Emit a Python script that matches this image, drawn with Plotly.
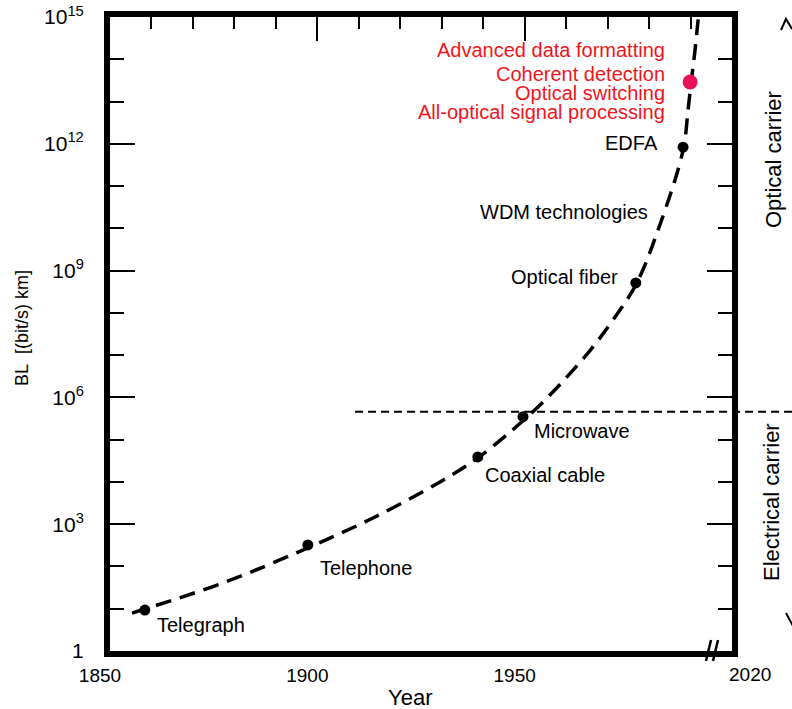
import plotly.graph_objects as go

# ---------------- data ----------------
tech_names = ["Telegraph", "Telephone", "Coaxial cable", "Microwave", "Optical fiber", "EDFA"]
tech_years = [1858.4, 1897.7, 1938.7, 1949.6, 1976.8, 1988.2]
tech_bl = [9.3, 324, 3.9e4, 3.5e5, 5.1e8, 8.3e11]

new_years = [1989.9]
new_bl = [2.9e13]
new_labels = ["Advanced data formatting", "Coherent detection",
              "Optical switching", "All-optical signal processing"]

trend_years = [1855.3, 1877.3, 1896.5, 1913.4, 1929.6, 1938.7, 1949.6, 1956.1,
               1965.8, 1971.3, 1976.9, 1982.6, 1988.2, 1989.4, 1990.1, 1991.1, 1992.0]
trend_bl = [7.9, 41, 245, 1.4e3, 1.0e4, 3.7e4, 2.8e5, 1.14e6,
            1.3e7, 6.8e7, 4.8e8, 1.2e10, 7.1e11, 6.3e12, 2.6e13, 1.7e14, 1.3e15]

carrier_boundary_bl = 4.6e5
carrier_boundary_start = 1909.1

x_tick_vals = [1850, 1900, 1950]
x_tick_text = ["1850", "1900", "1950"]
x_last_label = "2020"
y_tick_vals = [1, 1e3, 1e6, 1e9, 1e12, 1e15]
y_tick_text = ["1", "10<sup>3</sup>", "10<sup>6</sup>", "10<sup>9</sup>",
               "10<sup>12</sup>", "10<sup>15</sup>"]
y_minor_vals = [10 ** k for k in range(16)]
X_RANGE = [1850, 2000]

# ---------------- layout constants ----------------
W, H = 792, 709
L, R, T, B = 110, 60, 17, 58
PW, PH = W - L - R, H - T - B
FONT = "Liberation Sans, Arial, Helvetica, sans-serif"
RED = "#f2141c"


def pxx(p):
    return (p - L) / PW


def pxy(p):
    return (H - B - p) / PH


fig = go.Figure()

fig.add_trace(go.Scatter(
    x=trend_years, y=trend_bl, mode="lines", line_shape="spline",
    line=dict(color="black", width=3.5, dash="16px,9px", smoothing=1.0),
    hoverinfo="skip", showlegend=False))

fig.add_trace(go.Scatter(
    x=tech_years, y=tech_bl, mode="markers",
    marker=dict(color="black", size=11), text=tech_names,
    showlegend=False))

fig.add_trace(go.Scatter(
    x=new_years, y=new_bl, mode="markers",
    marker=dict(color="#e8105a", size=15), showlegend=False))

# horizontal boundary between electrical and optical carriers
fig.add_shape(type="line", xref="paper", yref="y",
              x0=(carrier_boundary_start - X_RANGE[0]) / (X_RANGE[1] - X_RANGE[0]),
              x1=pxx(W), y0=carrier_boundary_bl, y1=carrier_boundary_bl,
              line=dict(color="black", width=2, dash="8px,5px"), layer="above")

# axis break marks "//"
for dx in (0, 7):
    fig.add_shape(type="line", xref="paper", yref="paper",
                  x0=pxx(706 + dx), y0=pxy(661), x1=pxx(711 + dx), y1=pxy(640),
                  line=dict(color="black", width=2.5), layer="above")

# cut-off arrow heads at the far right
fig.add_shape(type="path", xref="paper", yref="paper",
              path=f"M {pxx(781)} {pxy(30)} L {pxx(786)} {pxy(19)} L {pxx(792)} {pxy(29)}",
              line=dict(color="black", width=2))
fig.add_shape(type="line", xref="paper", yref="paper",
              x0=pxx(786), y0=pxy(613), x1=pxx(793), y1=pxy(626),
              line=dict(color="black", width=2))

ann = []
lab_font = dict(family=FONT, size=20, color="black")
# black technology labels (x in years, y in log10 units)
ann.append(dict(x=1860.9, y=0.615, text="Telegraph", xanchor="left"))
ann.append(dict(x=1900.2, y=1.96, text="Telephone", xanchor="left"))
ann.append(dict(x=1939.9, y=4.16, text="Coaxial cable", xanchor="left"))
ann.append(dict(x=1951.8, y=5.205, text="Microwave", xanchor="left"))
ann.append(dict(x=1973.0, y=8.86, text="Optical fiber", xanchor="right"))
ann.append(dict(x=1980.2, y=10.375, text="WDM technologies", xanchor="right"))
ann.append(dict(x=1982.6, y=12.02, text="EDFA", xanchor="right"))
for a in ann:
    a.update(xref="x", yref="y", yanchor="middle", showarrow=False, font=lab_font)

for txt, yy in zip(new_labels, [14.22, 13.65, 13.20, 12.75]):
    ann.append(dict(x=1984.3, y=yy, xref="x", yref="y", text=txt, xanchor="right",
                    yanchor="middle", showarrow=False,
                    font=dict(family=FONT, size=20, color=RED)))

# last x tick label, placed right of the broken axis end
ann.append(dict(x=X_RANGE[1], y=pxy(674), xref="x", yref="paper", text=x_last_label,
                xshift=18, xanchor="center", yanchor="middle", showarrow=False,
                font=dict(family=FONT, size=19, color="black")))
# axis titles
ann.append(dict(x=pxx(410), y=pxy(697), xref="paper", yref="paper", text="Year",
                showarrow=False, xanchor="center", yanchor="middle",
                font=dict(family=FONT, size=22, color="black")))
ann.append(dict(x=pxx(22), y=pxy(328), xref="paper", yref="paper",
                text="BL\u00a0 [(bit/s) km]", textangle=-90, showarrow=False,
                xanchor="center", yanchor="middle",
                font=dict(family=FONT, size=18, color="black")))
# carrier labels
ann.append(dict(x=pxx(773), y=pxy(159), xref="paper", yref="paper",
                text="Optical carrier", textangle=-90, showarrow=False,
                xanchor="center", yanchor="middle",
                font=dict(family=FONT, size=22, color="black")))
ann.append(dict(x=pxx(771), y=pxy(502), xref="paper", yref="paper",
                text="Electrical carrier", textangle=-90, showarrow=False,
                xanchor="center", yanchor="middle",
                font=dict(family=FONT, size=22, color="black")))

fig.update_layout(
    width=W, height=H, margin=dict(l=L, r=R, t=T, b=B, autoexpand=False),
    paper_bgcolor="white", plot_bgcolor="white",
    font=dict(family=FONT, color="black"),
    showlegend=False,
    annotations=ann,
    xaxis=dict(range=X_RANGE, showgrid=False, zeroline=False, automargin=False,
               showline=True, linewidth=6, linecolor="black", mirror=True,
               ticks="", tickvals=x_tick_vals, ticktext=x_tick_text,
               ticklabelshift=-10, ticklabelstandoff=2,
               tickfont=dict(family=FONT, size=19, color="black")),
    xaxis2=dict(range=X_RANGE, overlaying="x", side="top", anchor="y",
                automargin=False,
                showgrid=False, zeroline=False, showline=False,
                showticklabels=False, tickmode="linear", tick0=1850, dtick=50,
                ticks="inside", ticklen=24, tickwidth=2, tickcolor="black",
                minor=dict(dtick=10, tick0=1850, ticks="inside", ticklen=12,
                           tickwidth=2, tickcolor="black")),
    yaxis=dict(type="log", range=[0, 15], showgrid=False, zeroline=False,
               automargin=False,
               showline=True, linewidth=6, linecolor="black", mirror="ticks",
               tickvals=y_tick_vals, ticktext=y_tick_text,
               ticks="inside", ticklen=25, tickwidth=2, tickcolor="black",
               minor=dict(tickvals=y_minor_vals, ticks="inside", ticklen=14,
                          tickwidth=2, tickcolor="black"),
               ticklabelstandoff=16,
               tickfont=dict(family=FONT, size=21, color="black")),
)

# invisible trace so that the top tick axis renders
fig.add_trace(go.Scatter(x=[X_RANGE[0]], y=[1], xaxis="x2", mode="markers",
                         marker=dict(opacity=0), hoverinfo="skip", showlegend=False))

fig.write_html("out.html")
